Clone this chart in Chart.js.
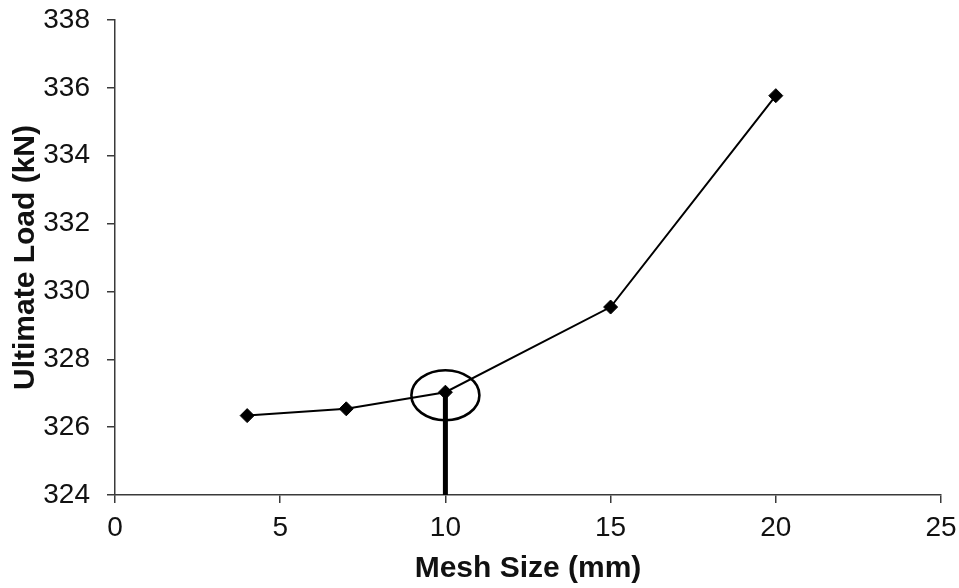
<!DOCTYPE html>
<html>
<head>
<meta charset="utf-8">
<script src="https://cdn.jsdelivr.net/npm/chart.js@4/dist/chart.umd.min.js"></script>
<style>
  html, body { margin: 0; padding: 0; background: #ffffff; }
  #wrap { width: 959px; height: 588px; }
</style>
</head>
<body>
<div id="wrap"><canvas id="c" width="959" height="588"></canvas></div>
<script>
// ---- data ----
const meshSizes = [4, 7, 10, 15, 20];
const ultimateLoads = [326.34, 326.54, 327.03, 329.54, 335.77];
const selectedMesh = 10;           // chosen mesh size (highlighted)
const selectedLoad = 327.03;       // its ultimate load
const yMin = 324, yMax = 338, yStep = 2;
const xMin = 0, xMax = 25, xStep = 5;
const xTitle = 'Mesh Size (mm)';
const yTitle = 'Ultimate Load (kN)';

const mainPoints = meshSizes.map((x, i) => ({ x: x, y: ultimateLoads[i] }));
const markerLine = [{ x: selectedMesh, y: yMin }, { x: selectedMesh, y: selectedLoad }];

const FONT = '"Liberation Sans", Arial, Helvetica, sans-serif';
const AXIS_COLOR = '#3a3a3a';
const TEXT_COLOR = '#111111';

const ellipsePlugin = {
  id: 'highlightEllipse',
  afterDatasetsDraw(chart) {
    const xs = chart.scales.x, ys = chart.scales.y;
    const cx = xs.getPixelForValue(selectedMesh);
    const cy = ys.getPixelForValue(selectedLoad) + 3;
    const ctx = chart.ctx;
    ctx.save();
    ctx.beginPath();
    ctx.ellipse(cx, cy, 34, 25, 0, 0, Math.PI * 2);
    ctx.lineWidth = 2.6;
    ctx.strokeStyle = '#000000';
    ctx.stroke();
    ctx.restore();
  }
};

new Chart(document.getElementById('c'), {
  type: 'scatter',
  data: {
    datasets: [
      {
        data: markerLine,
        showLine: true,
        borderColor: '#000000',
        borderWidth: 5,
        pointRadius: 0,
        borderCapStyle: 'butt'
      },
      {
        data: mainPoints,
        showLine: true,
        borderColor: '#000000',
        backgroundColor: '#000000',
        borderWidth: 2,
        pointStyle: 'rectRot',
        pointRadius: 7,
        pointBorderWidth: 1,
        tension: 0
      }
    ]
  },
  options: {
    responsive: false,
    animation: false,
    devicePixelRatio: 1,
    layout: { padding: { top: 20, right: 18, left: 0, bottom: 0 } },
    plugins: {
      legend: { display: false },
      tooltip: { enabled: false }
    },
    scales: {
      x: {
        type: 'linear',
        min: xMin, max: xMax,
        afterFit(scale) {
          scale.height = 93;
          scale.paddingLeft = 0; scale.paddingRight = 0;
          scale.paddingTop = 0; scale.paddingBottom = 0;
        },
        ticks: {
          stepSize: xStep,
          color: TEXT_COLOR,
          font: { family: FONT, size: 28 },
          padding: 8,
          maxRotation: 0
        },
        grid: {
          drawOnChartArea: false,
          drawTicks: true,
          tickLength: 8,
          color: AXIS_COLOR,
          lineWidth: 1.5
        },
        border: { display: true, color: AXIS_COLOR, width: 1.5 },
        title: {
          display: true,
          text: xTitle,
          color: TEXT_COLOR,
          font: { family: FONT, size: 30, weight: 'bold' },
          padding: { top: 0, bottom: 1 }
        }
      },
      y: {
        type: 'linear',
        min: yMin, max: yMax,
        afterFit(scale) {
          scale.width = 115;
          scale.paddingLeft = 0; scale.paddingRight = 0;
          scale.paddingTop = 0; scale.paddingBottom = 0;
        },
        ticks: {
          stepSize: yStep,
          color: TEXT_COLOR,
          font: { family: FONT, size: 28 },
          padding: 17
        },
        grid: {
          drawOnChartArea: false,
          drawTicks: true,
          tickLength: 8,
          color: AXIS_COLOR,
          lineWidth: 1.5
        },
        border: { display: true, color: AXIS_COLOR, width: 1.5 },
        title: {
          display: true,
          text: yTitle,
          color: TEXT_COLOR,
          font: { family: FONT, size: 30, weight: 'bold' },
          padding: { top: 8, bottom: 0 }
        }
      }
    }
  },
  plugins: [ellipsePlugin]
});
</script>
</body>
</html>
